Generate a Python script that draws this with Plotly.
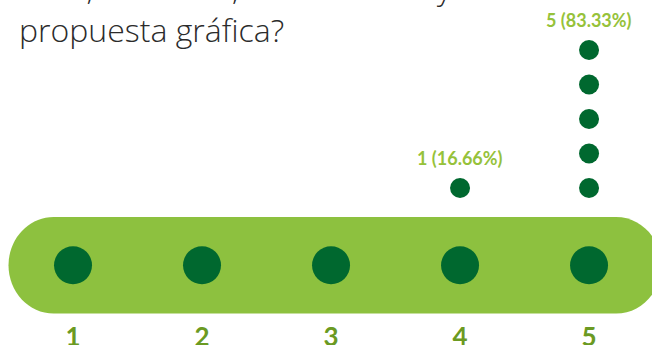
import plotly.graph_objects as go

# Survey answers on a 1-5 scale
categories = ["1", "2", "3", "4", "5"]
counts = [0, 0, 0, 1, 5]
percents = ["", "", "", "16.66%", "83.33%"]

title_lines = ["usos, formatos, es adecuada y versátil la", "propuesta gráfica?"]

PILL = "#8dc13f"
DOT = "#00682f"
LABEL = "#96c23a"
TICK = "#6b9a22"
TEXT = "#2b2b2b"

xs = list(range(1, len(categories) + 1))
base_y = -1.24  # level of the scale row inside the bar

fig = go.Figure()

# rounded bar behind the scale row
x0, x1 = 0.50, 5.56
rx, ry = 0.35, 1.40
yt, yb, ym = base_y + ry, base_y - ry, base_y
k = 0.5523
path = (
    f"M {x0+rx},{yt} L {x1-rx},{yt} "
    f"C {x1-rx+k*rx},{yt} {x1},{ym+k*ry} {x1},{ym} "
    f"C {x1},{ym-k*ry} {x1-rx+k*rx},{yb} {x1-rx},{yb} "
    f"L {x0+rx},{yb} "
    f"C {x0+rx-k*rx},{yb} {x0},{ym-k*ry} {x0},{ym} "
    f"C {x0},{ym+k*ry} {x0+rx-k*rx},{yt} {x0+rx},{yt} Z"
)
fig.add_shape(type="path", path=path, xref="x", yref="y",
              fillcolor=PILL, line=dict(width=0), layer="below")

# one large dot per scale point
fig.add_trace(go.Scatter(
    x=xs, y=[base_y] * len(xs), mode="markers",
    marker=dict(size=38, color=DOT, line=dict(width=0)),
    cliponaxis=False, hoverinfo="skip", showlegend=False))

# stacked response dots
sx, sy = [], []
for x, c in zip(xs, counts):
    for i in range(1, c + 1):
        sx.append(x)
        sy.append(i)
fig.add_trace(go.Scatter(
    x=sx, y=sy, mode="markers",
    marker=dict(size=20, color=DOT, line=dict(width=0)),
    cliponaxis=False, hoverinfo="skip", showlegend=False))

# count and share above each stack
for x, c, p in zip(xs, counts, percents):
    if c > 0:
        fig.add_annotation(
            x=x, y=c + 0.88, xref="x", yref="y", showarrow=False,
            text=f"{c} ({p})",
            font=dict(family="Lato", size=18, color=LABEL, weight="bold"))

# question text
fig.add_annotation(x=0.026, xref="paper", y=(317 + 13) / 317, yref="paper",
                   xanchor="left", yanchor="middle", showarrow=False,
                   text=title_lines[0],
                   font=dict(family="Open Sans", size=32, color=TEXT, weight=300))
fig.add_annotation(x=0.026, xref="paper", y=(317 - 30) / 317, yref="paper",
                   xanchor="left", yanchor="middle", showarrow=False,
                   text=title_lines[1],
                   font=dict(family="Open Sans", size=32, color=TEXT, weight=300))

fig.update_xaxes(range=[0.434, 5.488], tickmode="array", tickvals=xs,
                 ticktext=categories, showgrid=False, zeroline=False,
                 showline=False, ticks="", ticklabelstandoff=2, automargin=False,
                 tickfont=dict(family="Lato", size=26, color=TICK, weight="bold"))
fig.update_yaxes(range=[-2.739, 6.449], visible=False, showgrid=False,
                 zeroline=False, automargin=False)

fig.update_layout(width=652, height=345,
                  margin=dict(l=0, r=0, t=0, b=28, pad=0),
                  paper_bgcolor="white", plot_bgcolor="white")

fig.write_html("out.html")
